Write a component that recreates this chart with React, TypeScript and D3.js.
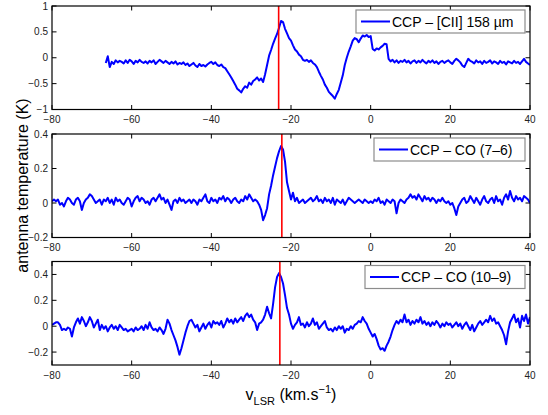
import React from "react";
import * as d3 from "d3";

// ---------- DATA ----------
const xTicks = [-80, -60, -40, -20, 0, 20, 40];

// [CII] 158 µm : velocity from -66.5 to 40 km/s, step 0.5
const ciiStart = -66.5;
const ciiStep = 0.5;
const ciiValues = [
  -0.10, 0.03, -0.18, -0.08, -0.12, -0.05, -0.09, -0.06, -0.08, -0.11,
  -0.05, -0.10, -0.04, -0.07, -0.12, -0.06, -0.09, -0.04, -0.08, -0.10,
  -0.07, -0.11, -0.06, -0.09, -0.05, -0.12, -0.08, -0.04, -0.07, -0.10,
  -0.06, -0.09, -0.12, -0.08, -0.11, -0.07, -0.13, -0.10, -0.12, -0.09,
  -0.14, -0.11, -0.16, -0.13, -0.10, -0.15, -0.18, -0.12, -0.16, -0.14,
  -0.17, -0.13, -0.10, -0.08, -0.12, -0.09, -0.14, -0.16, -0.13, -0.18,
  -0.20, -0.26, -0.32, -0.38, -0.45, -0.52, -0.60, -0.63, -0.67, -0.60,
  -0.55, -0.58, -0.48, -0.52, -0.45, -0.42, -0.38, -0.44, -0.40, -0.47,
  -0.32, -0.14, 0.04, 0.15, 0.27, 0.37, 0.46, 0.58, 0.71, 0.69,
  0.56, 0.47, 0.38, 0.33, 0.24, 0.16, 0.12, 0.06, 0.03, -0.04,
  -0.06, -0.04, -0.08, -0.05, -0.10, -0.13, -0.18, -0.27, -0.35, -0.42,
  -0.52, -0.58, -0.66, -0.70, -0.74, -0.79, -0.70, -0.62, -0.48, -0.34,
  -0.14, 0.00, 0.12, 0.22, 0.33, 0.38, 0.36, 0.30, 0.37, 0.43,
  0.41, 0.44, 0.40, 0.42, 0.17, 0.14, 0.18, 0.16, 0.20, 0.23,
  0.27, 0.26, -0.02, -0.07, -0.04, -0.09, -0.05, -0.10, -0.06, -0.08,
  -0.04, -0.09, -0.06, -0.11, -0.07, -0.05, -0.10, -0.06, -0.09, -0.04,
  -0.08, -0.11, -0.06, -0.09, -0.05, -0.10, -0.07, -0.12, -0.08, -0.06,
  -0.10, -0.07, -0.05, -0.09, -0.12, -0.06, -0.02, -0.05, -0.09, -0.15,
  -0.18, -0.10, -0.02, -0.06, -0.08, -0.11, -0.05, -0.09, -0.07, -0.12,
  -0.06, -0.10, -0.08, -0.05, -0.11, -0.07, -0.09, -0.12, -0.06, -0.10,
  -0.08, -0.13, -0.07, -0.09, -0.11, -0.06, -0.10, -0.08, -0.12, -0.07,
  -0.02, -0.08, -0.11, -0.14,
];

// CO (7-6): velocity from -80 to 40 km/s, step 0.5
const co76Start = -80;
const co76Step = 0.5;
const co76Values = [
  0.01, 0.02, 0.01, 0.02, -0.01, 0.00, -0.02, 0.01, 0.03, 0.02,
  0.00, -0.01, 0.02, 0.03, 0.01, -0.04, 0.00, 0.02, 0.03, 0.05,
  0.04, 0.02, 0.00, 0.01, 0.02, -0.01, 0.02, 0.01, 0.03, 0.00,
  0.02, -0.01, 0.03, 0.01, 0.02, 0.00, -0.01, 0.01, 0.03, 0.02,
  -0.02, 0.01, 0.03, 0.04, 0.01, 0.03, 0.02, 0.00, 0.01, -0.01,
  0.02, 0.03, 0.01, 0.03, 0.05, 0.02, 0.03, 0.00, 0.02, -0.01,
  -0.04, 0.01, 0.02, 0.00, 0.03, 0.01, 0.02, 0.00, 0.01, 0.02,
  0.00, 0.02, 0.01, -0.01, 0.02, 0.01, 0.03, 0.05, 0.01, 0.00,
  0.03, 0.01, 0.02, 0.00, 0.03, 0.02, 0.04, 0.01, 0.03, 0.02,
  0.00, 0.02, 0.03, 0.01, 0.00, 0.02, 0.01, 0.04, 0.02, 0.05,
  0.03, 0.01, 0.02, 0.01, -0.01, -0.04, -0.10, -0.07, -0.03, 0.05,
  0.10, 0.16, 0.21, 0.26, 0.30, 0.33, 0.31, 0.24, 0.12, 0.07,
  0.02, 0.06, 0.01, 0.03, 0.00, 0.01, 0.02, 0.00, 0.01, 0.02,
  0.03, 0.01, 0.02, 0.04, 0.01, 0.02, 0.00, 0.03, 0.01, 0.02,
  0.00, 0.03, -0.01, 0.02, 0.01, 0.00, 0.02, -0.01, 0.01, 0.03,
  0.02, 0.01, 0.00, 0.01, 0.02, 0.01, 0.00, 0.02, 0.01, 0.00,
  0.01, 0.00, 0.02, 0.01, 0.03, 0.00, 0.01, -0.01, 0.02, 0.01,
  0.00, 0.02, 0.01, -0.06, 0.00, 0.02, 0.01, 0.00, 0.02, 0.03,
  0.05, 0.03, 0.04, 0.02, 0.05, 0.03, 0.01, 0.04, 0.02, 0.03,
  0.01, 0.03, 0.02, 0.00, 0.02, 0.01, 0.03, 0.01, 0.00, 0.01,
  -0.01, 0.00, -0.03, -0.07, -0.02, 0.00, 0.02, 0.03, 0.00, 0.01,
  0.04, 0.02, 0.00, 0.03, 0.01, -0.01, 0.02, 0.04, 0.01, 0.00,
  0.02, 0.03, 0.00, 0.04, 0.01, 0.02, -0.01, 0.03, 0.05, 0.02,
  0.07, 0.03, 0.01, 0.04, 0.02, 0.03, 0.01, 0.04, 0.03, 0.02,
  0.00,
];

// CO (10-9): velocity from -80 to 40 km/s, step 0.5
const co109Start = -80;
const co109Step = 0.5;
const co109Values = [
  0.01, 0.02, 0.03, 0.03, 0.01, -0.03, -0.02, -0.03, -0.01, -0.02,
  -0.08, -0.01, 0.03, 0.06, 0.02, 0.07, 0.04, 0.00, 0.03, 0.07,
  0.04, -0.01, 0.02, 0.05, -0.03, 0.01, -0.02, 0.00, -0.04, -0.01,
  0.01, -0.02, 0.00, -0.03, 0.01, -0.01, -0.03, -0.02, -0.04, -0.03,
  -0.02, -0.04, -0.01, -0.03, -0.02, 0.00, -0.03, 0.01, -0.02, 0.03,
  -0.01, -0.03, -0.02, -0.04, -0.01, -0.03, -0.06, -0.02, 0.05, 0.02,
  -0.03, -0.07, -0.11, -0.16, -0.22, -0.17, -0.11, -0.05, 0.00, 0.04,
  0.05, 0.02, -0.01, 0.01, -0.04, -0.01, 0.02, -0.02, 0.01, 0.03,
  -0.01, 0.04, 0.02, 0.03, 0.01, 0.04, -0.01, 0.02, 0.06, 0.03,
  0.05, 0.02, 0.06, 0.03, 0.05, 0.07, 0.04, 0.08, 0.10, 0.07,
  0.09, 0.05, 0.03, -0.03, 0.02, 0.03, 0.05, 0.09, 0.15, 0.10,
  0.06, 0.17, 0.30, 0.38, 0.41, 0.38, 0.33, 0.24, 0.14, 0.09,
  0.02, -0.02, 0.01, 0.03, 0.07, 0.01, 0.02, -0.01, 0.03, 0.00,
  0.02, 0.06, 0.01, 0.03, -0.02, 0.00, 0.02, 0.04, -0.01, -0.03,
  -0.02, -0.04, -0.01, -0.03, 0.00, -0.02, 0.00, -0.05, -0.02, -0.03,
  0.00, -0.02, 0.01, 0.02, 0.04, 0.03, 0.07, 0.04, 0.02, -0.02,
  -0.05, -0.08, -0.06, -0.10, -0.15, -0.18, -0.17, -0.19, -0.15, -0.12,
  -0.08, -0.03, 0.01, 0.04, 0.02, 0.05, 0.03, 0.09, 0.03, 0.05,
  0.01, 0.04, 0.02, 0.05, 0.03, 0.07, 0.02, 0.04, 0.01, 0.03,
  0.00, 0.03, 0.01, 0.04, 0.02, -0.01, 0.02, 0.00, 0.03, 0.01,
  0.02, -0.01, 0.01, 0.03, 0.00, 0.02, -0.02, 0.01, 0.03, 0.00,
  -0.03, 0.01, -0.04, -0.01, 0.02, 0.04, 0.01, 0.03, 0.05, 0.03,
  0.08, 0.04, 0.06, 0.02, 0.03, 0.00, -0.03, -0.07, -0.14, -0.04,
  0.03, 0.06, 0.09, 0.03, 0.06, -0.01, 0.08, 0.04, 0.09, 0.02,
  0.07,
];

const panelLabels = ["CCP \u2013 [CII] 158 \u00b5m", "CCP \u2013 CO (7\u20136)", "CCP \u2013 CO (10\u20139)"];
const yDomains: [number, number][] = [[-1, 1], [-0.2, 0.4], [-0.3, 0.5]];
const yTickSets = [[-1, -0.5, 0, 0.5, 1], [-0.2, 0, 0.2, 0.4], [-0.2, 0, 0.2, 0.4]];
const redLines = [-23.1, -22.3, -22.8];

const series = [
  { start: ciiStart, step: ciiStep, values: ciiValues },
  { start: co76Start, step: co76Step, values: co76Values },
  { start: co109Start, step: co109Step, values: co109Values },
];

// ---------- LAYOUT ----------
const W = 548;
const H = 415;
const left = 52;
const right = 530;
const panelTops = [6, 134, 261.5];
const panelH = 103.5;
const legendWidths = [169, 151, 160];
const FONT = "'Liberation Sans', Arial, Helvetica, sans-serif";

function fmt(v: number) {
  const s = d3.format("")(Math.round(v * 100) / 100);
  return s.replace("-", "\u2212");
}

function Panel({ i }: { i: number }) {
  const top = panelTops[i];
  const bottom = top + panelH;
  const x = d3.scaleLinear().domain([-80, 40]).range([left, right]);
  const y = d3.scaleLinear().domain(yDomains[i]).range([bottom, top]);
  const s = series[i];
  const pts: [number, number][] = s.values.map((v, k) => [s.start + k * s.step, v]);
  const line = d3
    .line<[number, number]>()
    .x((d) => x(d[0]))
    .y((d) => y(d[1]));
  const tl = 4.5;
  const lw = legendWidths[i];
  const lx = right - 5 - lw;
  const ly = top + 4;
  const clipId = `clip${i}`;
  return (
    <g>
      <defs>
        <clipPath id={clipId}>
          <rect x={left} y={top} width={right - left} height={panelH} />
        </clipPath>
      </defs>
      <rect x={left} y={top} width={right - left} height={panelH} fill="#fff" />
      {/* x ticks */}
      {xTicks.map((t) => (
        <g key={`x${t}`}>
          <line x1={x(t)} x2={x(t)} y1={bottom} y2={bottom - tl} stroke="#000" strokeWidth={1} />
          <line x1={x(t)} x2={x(t)} y1={top} y2={top + tl} stroke="#000" strokeWidth={1} />
          <text x={x(t)} y={bottom + 13.5} textAnchor="middle" fontSize={10} fontFamily={FONT} fill="#222">
            {fmt(t)}
          </text>
        </g>
      ))}
      {/* y ticks */}
      {yTickSets[i].map((t) => (
        <g key={`y${t}`}>
          <line x1={left} x2={left + tl} y1={y(t)} y2={y(t)} stroke="#000" strokeWidth={1} />
          <line x1={right} x2={right - tl} y1={y(t)} y2={y(t)} stroke="#000" strokeWidth={1} />
          <text x={left - 4} y={y(t) + 3.5} textAnchor="end" fontSize={10} fontFamily={FONT} fill="#222">
            {fmt(t)}
          </text>
        </g>
      ))}
      <g clipPath={`url(#${clipId})`}>
        <path d={line(pts) || ""} fill="none" stroke="#0000ff" strokeWidth={2} strokeLinejoin="round" />
        <line x1={x(redLines[i])} x2={x(redLines[i])} y1={top} y2={bottom} stroke="#ff0000" strokeWidth={1.6} />
      </g>
      <rect x={left} y={top} width={right - left} height={panelH} fill="none" stroke="#000" strokeWidth={1.2} />
      {/* legend */}
      <rect x={lx} y={ly} width={lw} height={23} fill="#fff" stroke="#8c8c8c" strokeWidth={1.2} />
      <line x1={lx + 5} x2={lx + 34} y1={ly + 11.5} y2={ly + 11.5} stroke="#0000ff" strokeWidth={2} />
      <text x={lx + 36} y={ly + 16.5} fontSize={14} fontFamily={FONT} fill="#000">
        {panelLabels[i]}
      </text>
    </g>
  );
}

export default function App() {
  const cy = (panelTops[0] + panelTops[2] + panelH) / 2;
  return (
    <svg
      width={W}
      height={H}
      viewBox={`0 0 ${W} ${H}`}
      style={{ position: "absolute", left: 0, top: 0, background: "#fff" }}
    >
      <rect x={0} y={0} width={W} height={H} fill="#fff" />
      {[0, 1, 2].map((i) => (
        <Panel key={i} i={i} />
      ))}
      <text
        transform={`translate(28,${cy}) rotate(-90)`}
        textAnchor="middle"
        fontSize={16}
        fontFamily={FONT}
        fill="#000"
      >
        antenna temperature (K)
      </text>
      <text x={(left + right) / 2} y={400} textAnchor="middle" fontSize={16} fontFamily={FONT} fill="#000">
        v<tspan fontSize={11} dy={5}>LSR</tspan>
        <tspan dy={-5}> (km.s</tspan>
        <tspan fontSize={11} dy={-7}>{"\u22121"}</tspan>
        <tspan dy={7}>)</tspan>
      </text>
    </svg>
  );
}
